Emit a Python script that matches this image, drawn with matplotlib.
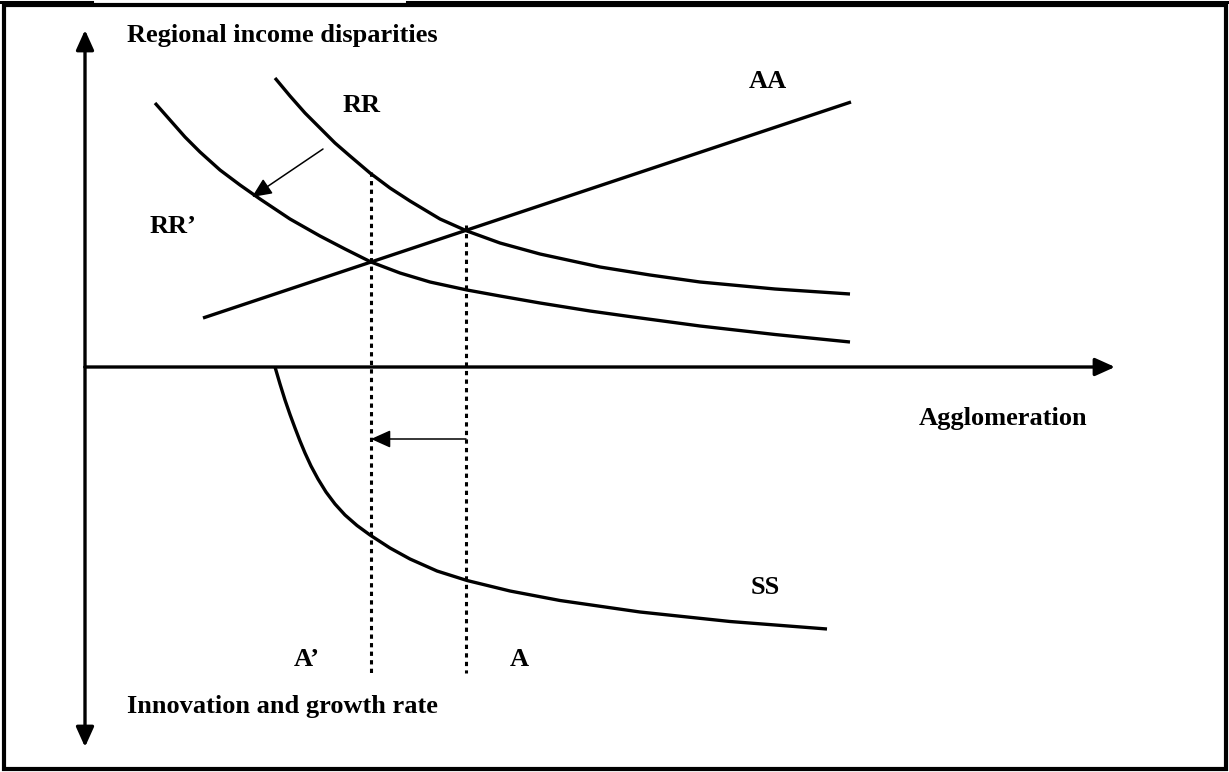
import matplotlib
matplotlib.use('Agg')
import matplotlib.pyplot as plt
from matplotlib.patches import Rectangle
from matplotlib.lines import Line2D

plt.rcParams['font.family'] = ['Liberation Serif', 'DejaVu Serif']

# curve points (origin = axes crossing)
aa_x = [11.8, 76.6]
aa_y = [4.9, 26.5]

rr_x = [19.0, 20.5, 22.0, 23.5, 25.0, 26.5, 28.5, 30.5, 32.5, 35.5, 38.2,
        41.5, 45.5, 51.5, 56.5, 61.5, 69.0, 76.5]
rr_y = [28.9, 27.1, 25.4, 23.9, 22.4, 21.1, 19.4, 17.9, 16.6, 14.8, 13.6,
        12.4, 11.3, 10.0, 9.2, 8.5, 7.8, 7.3]

rr2_x = [7.0, 8.5, 10.0, 11.5, 13.5, 15.5, 17.5, 20.5, 23.5, 26.0, 28.6,
         31.5, 34.5, 38.2, 41.5, 45.5, 50.5, 54.8, 61.5, 69.0, 76.5]
rr2_y = [26.4, 24.7, 23.0, 21.5, 19.7, 18.2, 16.8, 14.8, 13.1, 11.8, 10.5,
         9.4, 8.5, 7.7, 7.1, 6.4, 5.6, 5.0, 4.1, 3.25, 2.5]

ss_x = [19.0, 19.5, 20.0, 20.5, 21.0, 21.5, 22.0, 22.6, 23.3, 24.1, 25.0, 26.0,
        27.2, 28.5, 30.5, 32.5, 35.2, 38.2, 42.5, 47.5, 55.5, 64.5, 74.2]
ss_y = [0.0, -1.7, -3.3, -4.75, -6.1, -7.4, -8.6, -9.9, -11.2, -12.5, -13.7, -14.8,
        -15.85, -16.8, -18.1, -19.2, -20.4, -21.35, -22.4, -23.35, -24.5, -25.45, -26.2]

# equilibrium levels A' and A
a_new, a_old = 28.6, 38.1
a_new_top, a_old_top = 19.5, 14.2
dot_bottom = -30.6
shift_y = -7.2
rr_shift_from = (23.8, 21.8)
rr_shift_to = (16.7, 17.0)

x_axis_end = 103.0
y_axis_top, y_axis_bottom = 33.7, -38.0

fig = plt.figure(figsize=(12.29, 7.72), dpi=100)
ax = fig.add_axes([0, 0, 1, 1])
ax.set_xlim(-8.5, 114.4)
ax.set_ylim(-40.5, 36.7)
ax.axis('off')

lw = 2.4
for xs, ys in [(aa_x, aa_y), (rr_x, rr_y), (rr2_x, rr2_y), (ss_x, ss_y)]:
    ax.plot(xs, ys, color='black', lw=lw, solid_capstyle='butt', solid_joinstyle='round')

dots = (0, (1.4, 1.4))
ax.plot([a_new, a_new], [a_new_top, dot_bottom], color='black', lw=2.2, linestyle=dots, dash_capstyle='butt')
ax.plot([a_old, a_old], [a_old_top, dot_bottom], color='black', lw=2.2, linestyle=dots, dash_capstyle='butt')

head = '-|>,head_length=0.6,head_width=0.27'
def arrow(p_to, p_from, width):
    ax.annotate('', xy=p_to, xytext=p_from,
                arrowprops=dict(arrowstyle=head, color='black', lw=width,
                                shrinkA=0, shrinkB=0, mutation_scale=20))

# axes
arrow((0, y_axis_top), (0, 0), lw)
arrow((0, y_axis_bottom), (0, 0), lw)
arrow((x_axis_end, 0), (0, 0), lw)
# shift arrows
arrow(rr_shift_to, rr_shift_from, 1.1)
arrow((a_new, shift_y), (a_old, shift_y), 1.1)

fs = 19
tkw = dict(fontsize=fs, fontweight='bold', va='baseline', ha='left')
ax.text(4.2, 32.5, 'Regional income disparities', **tkw)
ax.text(4.2, -34.6, 'Innovation and growth rate', **tkw)
ax.text(83.4, -5.8, 'Agglomeration', **tkw)
ax.text(66.4, 27.9, 'AA', **tkw)
ax.text(25.8, 25.5, 'RR', **tkw)
ax.text(6.5, 13.4, 'RR\u2019', **tkw)
ax.text(66.6, -22.7, 'SS', **tkw)
ax.text(20.9, -29.9, 'A\u2019', **tkw)
ax.text(42.5, -29.9, 'A', **tkw)

# frame around the figure, plus the cut-off rule of the caption above it
fig.patches.append(Rectangle((3.5 / 1229, 3.5 / 772), 1222 / 1229, 764 / 772,
                             transform=fig.transFigure, fill=False, edgecolor='black', lw=3))
top = 1 - 1.5 / 772
fig.add_artist(Line2D([0, 92 / 1229], [top, top], color='black', lw=2.2, transform=fig.transFigure))
fig.add_artist(Line2D([407 / 1229, 1], [top, top], color='black', lw=2.2, transform=fig.transFigure))

fig.savefig('out.png', dpi=100)
